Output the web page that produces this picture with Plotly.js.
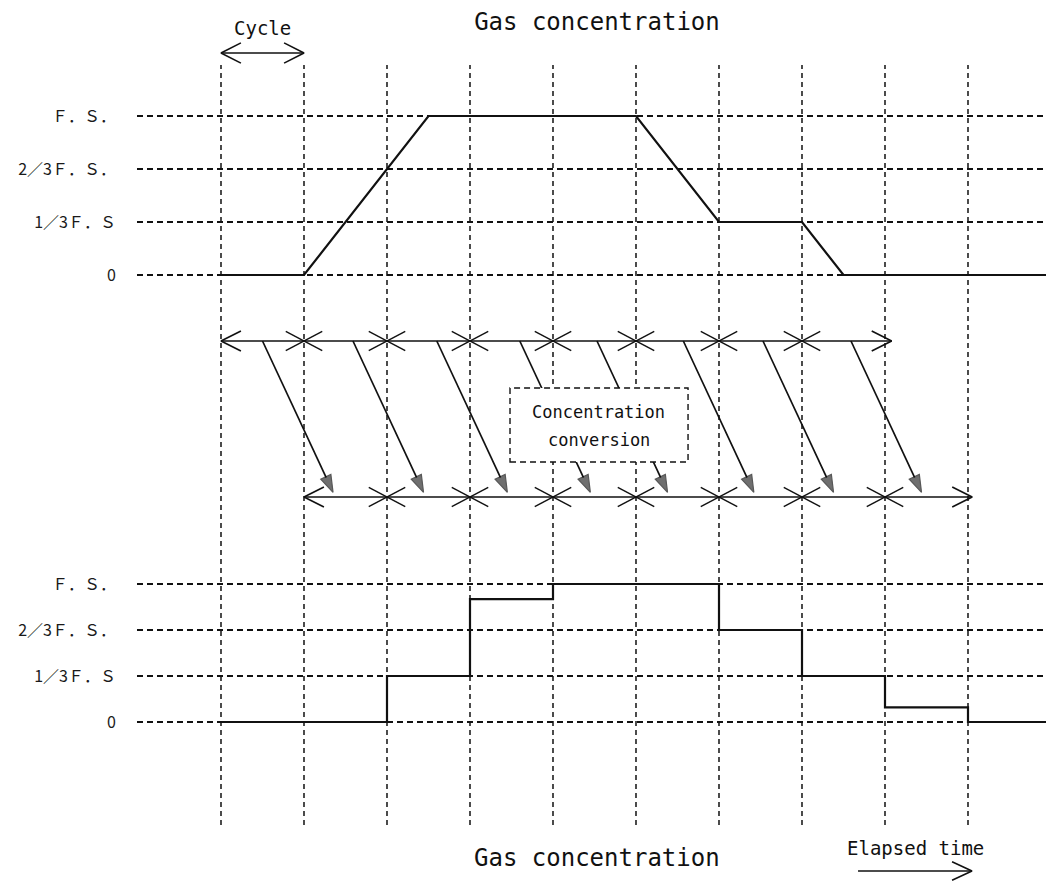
<!DOCTYPE html>
<html><head><meta charset="utf-8">
<script src="https://cdn.plot.ly/plotly-3.0.1.min.js"></script>
<style>html,body{margin:0;padding:0;background:#fff}</style>
</head><body><div id="chart" style="width:1046px;height:882px"></div>
<script>
// ---- data ----
const cycles = [0,1,2,3,4,5,6,7,8,9];
const levelValues = [0,1,2,3];
const levelLabels = ['0','1／3Ｆ．Ｓ','2／3Ｆ．Ｓ．','Ｆ．Ｓ．'];
const gasTime  = [0,1,2.5,5,6,7,7.5,9.94];
const gasLevel = [0,0,3,3,1,1,0,0];
const convTime  = [0,2,3,4,6,7,8,9,9.94];
const convLevel = [0,1,2.67,3,2,1,0.32,0,0];
const sampleMarks = [1,2,3,4,5,6,7];
const outputMarks = [2,3,4,5,6,7,8];
const sampleSpan = [0,8.08];
const outputSpan = [1,9.05];
const convStart = [0.5,1.59,2.6,3.6,4.53,5.57,6.53,7.59];
const convEnd   = [1.35,2.44,3.45,4.45,5.38,6.42,7.38,8.44];
const cycleSpan = [0,1];
const elapsedSpan = [7.675,9.048];

// ---- styles ----
const INK = '#111';
const GRID = '#111';
const MONO = 'DejaVu Sans Mono, Liberation Mono, monospace';
const JP = '"Noto Sans CJK JP", "Noto Sans", sans-serif';

const vx = [], vy = [];
cycles.forEach(c => { vx.push(c, c, null); vy.push(0, 1, null); });

function crosses(marks, yv) {
  const hw = 0.22, hh = 0.062, xs = [], ys = [];
  marks.forEach(c => {
    xs.push(c - hw, c + hw, null, c - hw, c + hw, null);
    ys.push(yv + hh, yv - hh, null, yv - hh, yv + hh, null);
  });
  return {xs, ys};
}
const cTop = crosses(sampleMarks, 1), cBot = crosses(outputMarks, 0);

// open (line-drawn) arrow: shaft plus chevron heads
function openArrow(span, y, hh, both, yaxis) {
  const [x0, x1] = span, hl = 0.24;
  const xs = [x0, x1, null, x1 - hl, x1, x1 - hl, null];
  const ys = [y, y, null, y + hh, y, y - hh, null];
  if (both) { xs.push(x0 + hl, x0, x0 + hl, null); ys.push(y + hh, y, y - hh, null); }
  return {x: xs, y: ys, xaxis: 'x', yaxis: yaxis, mode: 'lines',
          line: {color: INK, width: 1.6}};
}

const ax_ = [], ay_ = [], msz = [];
convStart.forEach((s, i) => {
  ax_.push(s, convEnd[i], null); ay_.push(1, 0.03, null); msz.push(0, 18, 0);
});

const traces = [
  {x: vx, y: vy, xaxis: 'x', yaxis: 'y4', mode: 'lines',
   line: {color: GRID, width: 1.5, dash: '5px,4px'}},
  {x: gasTime, y: gasLevel, xaxis: 'x', yaxis: 'y', mode: 'lines',
   line: {color: INK, width: 2.2}},
  {x: convTime, y: convLevel, xaxis: 'x', yaxis: 'y3', mode: 'lines',
   line: {color: INK, width: 2.2, shape: 'hv'}},
  {x: cTop.xs.concat(cBot.xs), y: cTop.ys.concat(cBot.ys), xaxis: 'x', yaxis: 'y2',
   mode: 'lines', line: {color: INK, width: 1.4}},
  {x: ax_, y: ay_, xaxis: 'x', yaxis: 'y2', mode: 'lines+markers',
   line: {color: INK, width: 1.7},
   marker: {symbol: 'arrow', angleref: 'previous', size: msz, color: '#333',
            line: {color: INK, width: 1.2}}},
  openArrow(sampleSpan, 1, 0.064, true, 'y2'),
  openArrow(outputSpan, 0, 0.064, true, 'y2'),
  openArrow(cycleSpan, 0.93991, 0.0115, true, 'y5'),
  openArrow(elapsedSpan, 0.01247, 0.0105, false, 'y5')
];

const yTick = {
  tickvals: levelValues, ticktext: levelLabels, showgrid: true, gridcolor: GRID,
  gridwidth: 1.4, griddash: '6px,4px', zeroline: false, showline: false,
  ticks: '', ticklabelstandoff: 20, tickfont: {family: JP, size: 16, color: '#1a1a1a'},
  anchor: 'x', fixedrange: true
};

const txt = (x, y, text, size, xref, yref) => ({xref: xref || 'x', yref: yref || 'paper',
  x: x, y: y, text: text, showarrow: false, xanchor: 'center', yanchor: 'middle',
  font: {family: MONO, size: size, color: INK}});

const layout = {
  width: 1046, height: 882, showlegend: false, hovermode: false,
  margin: {l: 0, r: 0, t: 0, b: 0},
  paper_bgcolor: '#fff', plot_bgcolor: 'rgba(0,0,0,0)',
  title: {text: 'Gas concentration', font: {family: MONO, size: 24, color: INK},
          x: 0.5707, xanchor: 'center', y: 0.975, yanchor: 'middle'},
  xaxis: {domain: [0.130975, 1], range: [-1.01205, 9.93976], visible: false, fixedrange: true},
  yaxis: Object.assign({}, yTick, {domain: [0.659864, 0.897959], range: [-0.471698, 3.490566]}),
  yaxis2: {domain: [0.399093, 0.648526], range: [-0.211538, 1.198718], visible: false, anchor: 'x', fixedrange: true},
  yaxis3: Object.assign({}, yTick, {domain: [0.149660, 0.376417], range: [-0.608696, 3.739130]}),
  yaxis4: {domain: [0.064626, 0.926304], range: [0, 1], visible: false, anchor: 'x', fixedrange: true},
  yaxis5: {domain: [0, 1], range: [0, 1], visible: false, anchor: 'x', fixedrange: true},
  shapes: [
    {type: 'rect', xref: 'x', yref: 'y2', x0: 3.482, x1: 5.627, y0: 0.2244, y1: 0.6987,
     fillcolor: '#fff', line: {color: INK, width: 1.4, dash: '6px,4px'}, layer: 'above'}
  ],
  annotations: [
    txt(4.554, 0.545, 'Concentration', 17, 'x', 'y2'),
    txt(4.554, 0.365, 'conversion', 17, 'x', 'y2'),
    txt(0.5, 0.96825, 'Cycle', 19),
    txt(8.373, 0.03855, 'Elapsed time', 19),
    txt(0.5707, 0.02721, 'Gas concentration', 24, 'paper', 'paper')
  ]
};

Plotly.newPlot('chart', traces, layout, {staticPlot: true, displayModeBar: false});
</script>
</body></html>
